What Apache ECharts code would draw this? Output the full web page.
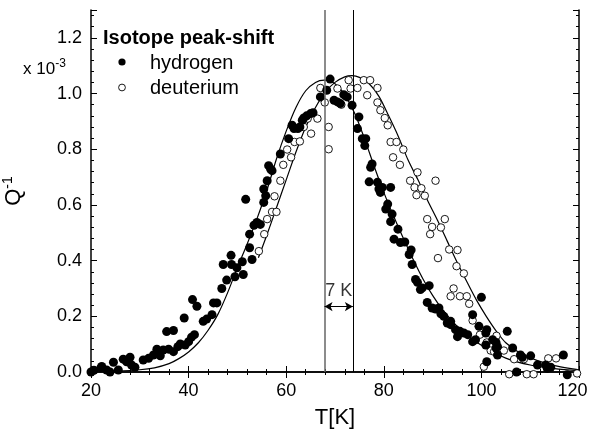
<!DOCTYPE html>
<html><head><meta charset="utf-8">
<script src="https://cdn.jsdelivr.net/npm/echarts@6/dist/echarts.min.js"></script>
<style>html,body{margin:0;padding:0;background:#fff}#c{width:589px;height:431px}</style>
</head><body><div id="c"></div>
<script>
// ---- data ----
const xTickValues = [20, 40, 60, 80, 100, 120];
const yTickValues = [0.0, 0.2, 0.4, 0.6, 0.8, 1.0, 1.2];
const legendTitle = 'Isotope peak-shift';
const seriesNames = ['hydrogen', 'deuterium'];
const hydrogen = [
 [20.0,0.00],[20.6,0.006],[22.0,0.015],[22.2,0.02],[23.2,0.007],[23.9,0.0],[24.6,0.035],[25.6,0.007],[26.6,0.046],[27.3,0.037],
 [28.0,0.053],[28.3,0.025],[29.0,0.017],[30.7,0.043],[31.8,0.049],[32.8,0.061],[33.5,0.082],[34.2,0.058],[34.8,0.079],[35.5,0.145],
 [35.9,0.082],[36.9,0.149],[36.9,0.073],[37.8,0.091],[38.3,0.101],[39.1,0.194],[39.3,0.097],[40.0,0.109],[40.6,0.125],[40.8,0.26],
 [41.2,0.134],[41.7,0.236],[43.0,0.182],[43.7,0.19],[44.8,0.206],[45.1,0.248],[45.8,0.248],[46.8,0.30],[47.1,0.386],[47.8,0.33],
 [48.7,0.419],[48.8,0.386],[49.5,0.342],[49.9,0.374],[51.0,0.396],[51.2,0.35],[52.5,0.446],[52.5,0.495],[53.0,0.404],[53.4,0.527],
 [54.0,0.537],[54.7,0.53],[51.7,0.62],[55.4,0.609],[55.8,0.633],[55.4,0.657],[56.1,0.687],[56.4,0.741],[56.8,0.729],[57.1,0.723],
 [58.8,0.783],[60.5,0.838],[61.2,0.886],[61.6,0.874],[62.4,0.874],[62.8,0.88],[63.3,0.904],[63.6,0.912],[64.2,0.92],[65.0,0.928],
 [65.5,0.931],[67.0,0.988],[68.3,1.012],[69.0,1.052],[69.8,0.976],[70.5,0.97],[71.1,0.964],[71.8,0.996],[72.5,0.988],[73.5,0.958],
 [74.9,0.916],[74.6,0.874],[75.6,0.838],[76.3,0.838],[76.1,0.813],[77.6,0.747],[77.3,0.735],[77.0,0.683],[78.7,0.681],[79.0,0.657],
 [79.7,0.663],[79.3,0.645],[81.4,0.663],[80.8,0.603],[80.4,0.585],[81.7,0.567],[81.4,0.54],[82.9,0.513],[82.1,0.477],[83.4,0.465],
 [84.3,0.467],[85.2,0.422],[85.6,0.438],[85.8,0.386],[86.5,0.332],[86.9,0.322],[87.9,0.302],[87.5,0.296],[89.3,0.31],[88.9,0.25],
 [89.9,0.23],[90.6,0.226],[91.3,0.23],[91.7,0.209],[92.3,0.20],[93.0,0.176],[93.7,0.182],[93.7,0.17],[94.7,0.152],[95.6,0.146],
 [95.1,0.127],[96.4,0.14],[97.2,0.134],[98.2,0.109],[98.8,0.116],[98.2,0.206],[100.0,0.268],[99.5,0.164],[100.9,0.14],[101.1,0.152],
 [102.3,0.116],[103.0,0.106],[103.3,0.091],[101.1,0.037],[105.3,0.146],[100.9,0.097],[103.0,0.086],[103.3,0.061],[106.4,0.086],[108.0,0.061],
 [108.4,0.053],[110.1,0.058],[111.5,0.025],[113.2,0.025],[113.5,0.013],[114.2,0.017],[116.8,0.061],[107.2,0.0],[117.6,-0.01]
];
const deuterium = [
 [54.4,0.434],[55.5,0.495],[56.1,0.549],[57.1,0.575],[58.0,0.575],[57.6,0.631],[58.8,0.687],[59.4,0.744],[61.0,0.771],[60.2,0.799],
 [61.7,0.826],[62.8,0.828],[63.6,0.88],[65.1,0.856],[64.4,0.91],[66.4,0.91],[67.0,1.02],[67.9,0.968],[68.7,0.88],[68.7,0.80],
 [70.5,1.018],[71.3,0.96],[72.2,0.99],[72.8,1.048],[73.2,1.018],[74.6,1.02],[75.9,1.048],[77.2,1.048],[78.7,1.02],[76.6,0.994],
 [78.7,0.968],[79.3,0.94],[80.2,0.912],[80.8,0.886],[81.4,0.826],[82.6,0.826],[84.0,0.799],[81.9,0.771],[83.3,0.744],[86.9,0.717],
 [85.4,0.687],[86.3,0.663],[86.7,0.635],[90.6,0.687],[87.7,0.66],[88.4,0.633],[88.9,0.549],[92.5,0.549],[89.9,0.521],[91.7,0.519],
 [89.5,0.495],[93.4,0.44],[95.1,0.438],[91.1,0.409],[94.9,0.38],[96.4,0.354],[94.3,0.30],[93.7,0.272],[95.6,0.272],[97.0,0.272],
 [97.5,0.245],[98.2,0.185],[99.7,0.134],[101.1,0.106],[103.1,0.13],[101.9,0.077],[102.6,0.073],[100.5,0.019],[103.6,0.077],[104.6,0.077],
 [106.7,0.046],[108.7,0.046],[105.7,-0.008],[109.3,-0.008],[110.7,-0.008],[113.7,0.049],[115.3,0.049],[119.6,-0.005]
];
const hydrogenFit = [
 [25,0.003],[30,0.008],[33,0.015],[36,0.03],[38,0.048],[40,0.072],[42,0.105],[44,0.15],[46,0.207],[48,0.285],
 [50,0.375],[52,0.46],[54,0.55],[56,0.65],[58,0.765],[60,0.865],[62,0.95],[64,1.01],[66,1.04],[67.8,1.048],
 [70,1.035],[72,0.995],[74,0.93],[76,0.84],[78,0.74],[80,0.645],[82,0.56],[84,0.48],[86,0.405],[88,0.335],
 [90,0.275],[92,0.225],[95,0.165],[98,0.12],[101,0.085],[105,0.05],[110,0.025],[115,0.012],[120,0.005]
];
const deuteriumFit = [
 [54.3,0.41],[56,0.49],[58,0.59],[60,0.69],[62,0.79],[64,0.88],[66,0.95],[68,1.005],[70,1.04],[72,1.06],
 [73.5,1.064],[75,1.058],[77,1.035],[79,0.99],[81,0.92],[83,0.845],[85,0.76],[87,0.69],[89,0.615],[91,0.545],
 [93,0.47],[95,0.395],[97,0.325],[99,0.258],[101,0.2],[103,0.148],[105,0.105],[108,0.067],[111.5,0.041],[115,0.023],[120,0.008]
];
const peakPositions = [67.86, 73.66];
const shiftText = '7 K';
const shiftLevel = 0.235;
const shiftLabelLevel = 0.292;
const xName = 'T[K]';
const yName = 'Q';
const yNameSup = '-1';
const scaleText = 'x 10';
const scaleSup = '-3';

// ---- chart ----
const FONT = '"Liberation Sans", Arial, Helvetica, sans-serif';
const chart = echarts.init(document.getElementById('c'), null, {renderer: 'canvas'});
const isTick = (v, step) => Math.abs(v / step - Math.round(v / step)) < 1e-6;

const baseAxisLine = {show: true, lineStyle: {color: '#000', width: 1.5}};
const baseTick = {show: true, inside: true, length: 6, lineStyle: {color: '#000', width: 1}};
const baseMinor = {show: true, splitNumber: 5, length: 3, lineStyle: {color: '#000', width: 1}};
const lastX = xTickValues[xTickValues.length - 1];

const option = {
  animation: false,
  backgroundColor: '#fff',
  grid: {left: 91, right: 10, top: 10, bottom: 59, containLabel: false, outerBoundsMode: 'none'},
  xAxis: [{
    type: 'value', min: 20, max: 120, interval: 20, position: 'bottom',
    axisLine: baseAxisLine, axisTick: baseTick, minorTick: baseMinor, splitLine: {show: false},
    axisLabel: {color: '#000', fontSize: 18, fontFamily: FONT, margin: 10,
      formatter: v => !xTickValues.includes(v) ? '' : (v === lastX ? '{e|' + v + '}' : String(v)),
      rich: {e: {fontSize: 18, fontFamily: FONT, color: '#000', padding: [0, 13, 0, 0]}}},
    name: xName, nameLocation: 'middle', nameGap: 35,
    nameTextStyle: {color: '#000', fontSize: 22, fontFamily: FONT}
  }, {
    type: 'value', min: 20, max: 120, interval: 20, position: 'top',
    axisLine: baseAxisLine, axisTick: baseTick, minorTick: baseMinor, splitLine: {show: false},
    axisLabel: {show: false}
  }],
  yAxis: [{
    type: 'value', min: 0, max: 1.3, interval: 0.2, position: 'left',
    axisLine: baseAxisLine, axisTick: baseTick, minorTick: baseMinor, splitLine: {show: false},
    axisLabel: {color: '#000', fontSize: 18, fontFamily: FONT, margin: 9,
      formatter: v => isTick(v, 0.2) ? v.toFixed(1) : ''},
    name: '{b|' + yName + '}{s|' + yNameSup + '}', nameLocation: 'middle', nameGap: 64, nameRotate: 90,
    nameTextStyle: {color: '#000', fontFamily: FONT,
      rich: {b: {fontSize: 22, fontFamily: FONT, color: '#000'},
             s: {fontSize: 14, fontFamily: FONT, color: '#000', padding: [0, 0, 12, 0]}}}
  }, {
    type: 'value', min: 0, max: 1.3, interval: 0.2, position: 'right',
    axisLine: baseAxisLine, axisTick: baseTick, minorTick: baseMinor, splitLine: {show: false},
    axisLabel: {show: false}
  }],
  series: [
    {
      name: 'hydrogenFit', type: 'line', data: hydrogenFit, showSymbol: false, smooth: 0.3,
      lineStyle: {color: '#000', width: 1.2}, silent: true, z: 2,
      markLine: {
        silent: true, symbol: ['none', 'none'], animation: false,
        label: {show: false},
        data: peakPositions.map((p, i) => ({xAxis: p, lineStyle: {color: i === 0 ? '#666' : '#000', width: i === 0 ? 1.5 : 1, type: 'solid'}}))
      }
    },
    {
      name: 'deuteriumFit', type: 'line', data: deuteriumFit, showSymbol: false, smooth: 0.3,
      lineStyle: {color: '#000', width: 1.2}, silent: true, z: 2,
      markLine: {
        silent: true, symbol: ['arrow', 'arrow'], symbolSize: [7, 8], animation: false,
        label: {show: false},
        lineStyle: {color: '#000', width: 1, type: 'solid'},
        data: [[{coord: [peakPositions[0], shiftLevel]}, {coord: [peakPositions[1], shiftLevel]}]]
      }
    },
    {
      name: seriesNames[0], type: 'scatter', data: hydrogen, symbol: 'circle', symbolSize: 9, clip: false,
      itemStyle: {color: '#000', borderColor: '#000', borderWidth: 0, opacity: 1}, z: 4
    },
    {
      name: seriesNames[1], type: 'scatter', data: deuterium, symbol: 'circle', symbolSize: 7.5, clip: false,
      itemStyle: {color: '#fff', borderColor: '#000', borderWidth: 0.9, opacity: 1}, z: 3
    },
    {
      name: 'shiftLabel', type: 'scatter', data: [[(peakPositions[0] + peakPositions[1]) / 2, shiftLabelLevel]],
      symbolSize: 0, silent: true, z: 5,
      label: {show: true, position: 'inside', formatter: shiftText, color: '#000', fontSize: 18, fontFamily: FONT}
    }
  ],
  graphic: [
    {type: 'text', x: 103, y: 38, style: {text: legendTitle, fontSize: 20, fontWeight: 'bold', fontFamily: FONT, fill: '#000', verticalAlign: 'middle'}},
    {type: 'circle', shape: {cx: 122, cy: 62, r: 3.6}, style: {fill: '#000'}},
    {type: 'text', x: 150, y: 63, style: {text: seriesNames[0], fontSize: 20, fontFamily: FONT, fill: '#000', verticalAlign: 'middle'}},
    {type: 'circle', shape: {cx: 122, cy: 87.5, r: 3.4}, style: {fill: '#fff', stroke: '#000', lineWidth: 0.9}},
    {type: 'text', x: 150, y: 88, style: {text: seriesNames[1], fontSize: 20, fontFamily: FONT, fill: '#000', verticalAlign: 'middle'}},
    {type: 'text', x: 23, y: 69, style: {
      text: '{m|' + scaleText + '}{s|' + scaleSup + '}', verticalAlign: 'middle', fill: '#000',
      rich: {m: {fontSize: 17, fontFamily: FONT, fill: '#000'},
             s: {fontSize: 12, fontFamily: FONT, fill: '#000', padding: [0, 0, 10, 0]}}}}
  ]
};
chart.setOption(option);
</script>
</body></html>
